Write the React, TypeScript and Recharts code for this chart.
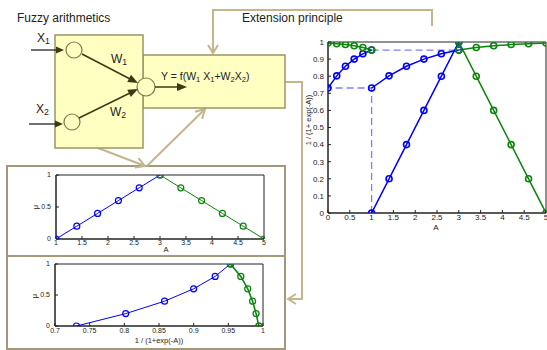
import React from "react";
import { LineChart, Line, XAxis, YAxis, ReferenceArea } from "recharts";

// membership triangle (A, mu) and its image through the sigmoid
const riseA = [1, 1.4, 1.8, 2.2, 2.6, 3];
const fallA = [3, 3.4, 3.8, 4.2, 4.6, 5];
const riseMu = [0, 0.2, 0.4, 0.6, 0.8, 1];
const fallMu = [1, 0.8, 0.6, 0.4, 0.2, 0];
const riseSig = [0.731, 0.802, 0.858, 0.9, 0.931, 0.953];
const fallSig = [0.953, 0.968, 0.978, 0.985, 0.99, 0.994];

// dashed projection guides in the big plot
const guideLowX = [1, 1, 0];
const guideLowY = [0, 0.731, 0.731];
const guideHighX = [1, 3];
const guideHighY = [0.953, 0.953];

const mainXTicks = [0, 0.5, 1, 1.5, 2, 2.5, 3, 3.5, 4, 4.5, 5];
const mainYTicks = [0, 0.1, 0.2, 0.3, 0.4, 0.5, 0.6, 0.7, 0.8, 0.9, 1];
const aTicks = [1, 1.5, 2, 2.5, 3, 3.5, 4, 4.5, 5];
const muTicks = [0, 0.5, 1];
const sigTicks = [0.7, 0.75, 0.8, 0.85, 0.9, 0.95, 1];

const pts = (xs: number[], ys: number[]) => xs.map((x, i) => ({ x, y: ys[i] }));

const FONT = "'Liberation Sans', Arial, sans-serif";
const BLUE = "#0000ff";
const GREEN = "#0b850b";
const GUIDE = "#7d7dff";
const KHAKI = "#c3b68c";
const FRAME = "#a3987a";
const BOX = "#9c9466";
const INK = "#3a3a14";

interface PlotProps {
  left: number;
  top: number;
  width: number;
  height: number;
  margin: { top: number; right: number; bottom: number; left: number };
  yWidth: number;
  xHeight: number;
  xDomain: [number, number];
  xTicks: number[];
  yTicks: number[];
  fontSize: number;
  xTickMargin: number;
  yTickMargin: number;
  children: React.ReactNode;
}

const Plot: React.FC<PlotProps> = ({
  left, top, width, height, margin, yWidth, xHeight, xDomain, xTicks, yTicks,
  fontSize, xTickMargin, yTickMargin, children,
}) => (
  <div style={{ position: "absolute", left, top }}>
    <LineChart width={width} height={height} margin={margin}>
      <XAxis
        type="number"
        dataKey="x"
        domain={xDomain}
        ticks={xTicks}
        interval={0}
        height={xHeight}
        allowDataOverflow
        tickSize={-3}
        tickMargin={xTickMargin}
        stroke="#222"
        tick={{ fill: "#222", fontSize, fontFamily: FONT }}
      />
      <YAxis
        type="number"
        domain={[0, 1]}
        ticks={yTicks}
        interval={0}
        width={yWidth}
        allowDataOverflow
        tickSize={-3}
        tickMargin={yTickMargin}
        stroke="#222"
        tick={{ fill: "#222", fontSize, fontFamily: FONT }}
      />
      <ReferenceArea x1={xDomain[0]} x2={xDomain[1]} y1={0} y2={1} fill="none" stroke="#222" strokeWidth={1} ifOverflow="visible" />
      {children}
    </LineChart>
  </div>
);

const dot = (c: string, r: number, w: number) => ({ r, stroke: c, strokeWidth: w, fill: "none" });

const arrowHead = (x1: number, y1: number, x2: number, y2: number, len: number, half: number) => {
  const d = Math.hypot(x2 - x1, y2 - y1);
  const ux = (x2 - x1) / d;
  const uy = (y2 - y1) / d;
  const bx = x2 - ux * len;
  const by = y2 - uy * len;
  return `${bx - uy * half},${by + ux * half} ${x2},${y2} ${bx + uy * half},${by - ux * half}`;
};

const Sub: React.FC<{ children: React.ReactNode }> = ({ children }) => (
  <tspan fontSize="0.72em" dy={2}>{children}</tspan>
);

export default function App() {
  return (
    <div style={{ position: "absolute", left: 0, top: 0, width: 547, height: 350, background: "#fff", fontFamily: FONT }}>
      {/* extension principle: A and mu mapped through 1/(1+exp(-A)) */}
      <Plot
        left={300} top={30} width={247} height={205}
        margin={{ top: 12, right: 1, bottom: 0, left: 0 }}
        yWidth={28} xHeight={22} xDomain={[0, 5]}
        xTicks={mainXTicks} yTicks={mainYTicks} fontSize={8}
        xTickMargin={4} yTickMargin={7}
      >
        <Line data={pts(guideLowX, guideLowY)} dataKey="y" stroke={GUIDE} strokeWidth={1.3} strokeDasharray="7 4" dot={false} isAnimationActive={false} />
        <Line data={pts(guideHighX, guideHighY)} dataKey="y" stroke={GUIDE} strokeWidth={1.3} strokeDasharray="7 4" dot={false} isAnimationActive={false} />
        <Line data={pts(riseA, riseMu)} dataKey="y" stroke={BLUE} strokeWidth={1.5} dot={dot(BLUE, 3, 1.6)} isAnimationActive={false} />
        <Line data={pts(riseA, riseSig)} dataKey="y" stroke={BLUE} strokeWidth={1.5} dot={dot(BLUE, 3, 1.6)} isAnimationActive={false} />
        <Line data={pts(riseMu, riseSig)} dataKey="y" stroke={BLUE} strokeWidth={1.5} dot={dot(BLUE, 3, 1.6)} isAnimationActive={false} />
        <Line data={pts(fallA, fallMu)} dataKey="y" stroke={GREEN} strokeWidth={1.5} dot={dot(GREEN, 3, 1.6)} isAnimationActive={false} />
        <Line data={pts(fallA, fallSig)} dataKey="y" stroke={GREEN} strokeWidth={1.5} dot={dot(GREEN, 3, 1.6)} isAnimationActive={false} />
        <Line data={pts(fallMu, fallSig)} dataKey="y" stroke={GREEN} strokeWidth={1.5} dot={dot(GREEN, 3, 1.6)} isAnimationActive={false} />
      </Plot>

      {/* membership function of A */}
      <Plot
        left={20} top={168} width={250} height={85}
        margin={{ top: 7, right: 6, bottom: 0, left: 0 }}
        yWidth={36} xHeight={14} xDomain={[1, 5]}
        xTicks={aTicks} yTicks={muTicks} fontSize={7}
        xTickMargin={4} yTickMargin={8}
      >
        <Line data={pts(riseA, riseMu)} dataKey="y" stroke={BLUE} strokeWidth={1} dot={dot(BLUE, 3, 1.2)} isAnimationActive={false} />
        <Line data={pts(fallA, fallMu)} dataKey="y" stroke={GREEN} strokeWidth={1} dot={dot(GREEN, 3, 1.2)} isAnimationActive={false} />
      </Plot>

      {/* membership function of the output */}
      <Plot
        left={19} top={257} width={250} height={90}
        margin={{ top: 7, right: 6, bottom: 0, left: 0 }}
        yWidth={36} xHeight={21} xDomain={[0.7, 1]}
        xTicks={sigTicks} yTicks={muTicks} fontSize={7}
        xTickMargin={5} yTickMargin={8}
      >
        <Line data={pts(riseSig, riseMu)} dataKey="y" stroke={BLUE} strokeWidth={1} dot={dot(BLUE, 3, 1.2)} isAnimationActive={false} />
        <Line data={pts(fallSig, fallMu)} dataKey="y" stroke={GREEN} strokeWidth={1.6} dot={dot(GREEN, 3, 1.3)} isAnimationActive={false} />
      </Plot>

      <svg width={547} height={350} style={{ position: "absolute", left: 0, top: 0, pointerEvents: "none" }} fontFamily={FONT}>
        {/* axis titles */}
        <text x={309} y={120} fontSize={7.5} textAnchor="middle" dominantBaseline="middle" transform="rotate(-90 309 120)" fill="#222">1 / (1+ exp(-A))</text>
        <text x={436} y={230} fontSize={8} textAnchor="middle" fill="#222">A</text>
        <text x={36} y={207} fontSize={7.5} textAnchor="middle" dominantBaseline="middle" transform="rotate(-90 36 207)" fill="#222">μ</text>
        <text x={166} y={251.5} fontSize={7.5} textAnchor="middle" fill="#222">A</text>
        <text x={35} y={296} fontSize={7.5} textAnchor="middle" dominantBaseline="middle" transform="rotate(-90 35 296)" fill="#222">μ</text>
        <text x={159} y={343} fontSize={7.5} textAnchor="middle" fill="#222">1 / (1+exp(-A))</text>

        {/* panel frames */}
        <rect x={7} y={166} width={278} height={183} fill="none" stroke={FRAME} strokeWidth={2} />
        <line x1={7} y1={256} x2={285} y2={256} stroke={FRAME} strokeWidth={2} />

        {/* connectors */}
        <polyline points="213,53 213,10 432,10 432,26" fill="none" stroke={KHAKI} strokeWidth={2} />
        <polyline points="208,45 213,53 218,45" fill="none" stroke={KHAKI} strokeWidth={2} />
        <polyline points="285,82 302,82 302,299 289,299" fill="none" stroke={KHAKI} strokeWidth={2} />
        <polyline points="296,294 288,299 296,304" fill="none" stroke={KHAKI} strokeWidth={2} />
        <line x1={98} y1={148} x2={145} y2={166} stroke={KHAKI} strokeWidth={2} />
        <polyline points={arrowHead(98, 148, 145, 166, 9, 5)} fill="none" stroke={KHAKI} strokeWidth={2} />
        <line x1={147} y1={166} x2={205} y2={109} stroke={KHAKI} strokeWidth={2} />
        <polyline points={arrowHead(147, 166, 205, 109, 9, 5)} fill="none" stroke={KHAKI} strokeWidth={2} />

        {/* network boxes */}
        <rect x={143} y={55} width={142} height={53} fill="#ffffc2" stroke={BOX} strokeWidth={1.5} />
        <rect x={55} y={35} width={88} height={113} fill="#ffffc2" stroke={BOX} strokeWidth={1.5} />
        <circle cx={74} cy={50} r={8} fill="none" stroke="#7c7a50" strokeWidth={1.2} />
        <circle cx={72} cy={122} r={8} fill="none" stroke="#7c7a50" strokeWidth={1.2} />
        <circle cx={146} cy={87} r={9} fill="#ffffc2" stroke="#7c7a50" strokeWidth={1.2} />

        {/* inputs */}
        <line x1={31} y1={50} x2={56} y2={50} stroke="#111" strokeWidth={1.2} />
        <polygon points={arrowHead(31, 50, 64, 50, 8, 3.5)} fill={INK} />
        <line x1={29} y1={124} x2={56} y2={124} stroke="#111" strokeWidth={1.2} />
        <polygon points={arrowHead(29, 124, 63, 124, 8, 3.5)} fill={INK} />

        {/* weights */}
        <line x1={82} y1={54} x2={132} y2={80} stroke={INK} strokeWidth={1.5} />
        <polygon points={arrowHead(82, 54, 138, 83, 10, 4)} fill={INK} />
        <line x1={79} y1={118} x2={132} y2={92} stroke={INK} strokeWidth={1.5} />
        <polygon points={arrowHead(79, 118, 138, 89, 10, 4)} fill={INK} />
        <line x1={155} y1={87} x2={178} y2={87} stroke={INK} strokeWidth={1.5} />
        <polygon points={arrowHead(155, 87, 187, 87, 10, 4)} fill={INK} />

        {/* labels */}
        <text x={17} y={22} fontSize={12} fill="#222">Fuzzy arithmetics</text>
        <text x={242} y={22} fontSize={12} fill="#222">Extension principle</text>
        <text x={37} y={42} fontSize={12} fill="#222">X<Sub>1</Sub></text>
        <text x={36} y={113} fontSize={12} fill="#222">X<Sub>2</Sub></text>
        <text x={111} y={63} fontSize={12} fill="#222">W<Sub>1</Sub></text>
        <text x={110} y={116} fontSize={12} fill="#222">W<Sub>2</Sub></text>
        <text x={161} y={80} fontSize={10.5} fill="#222">
          Y = f(W<Sub>1</Sub><tspan dy={-2}> X</tspan><Sub>1</Sub><tspan dy={-2}>+W</tspan><Sub>2</Sub><tspan dy={-2}>X</tspan><Sub>2</Sub><tspan dy={-2}>)</tspan>
        </text>
      </svg>
    </div>
  );
}
